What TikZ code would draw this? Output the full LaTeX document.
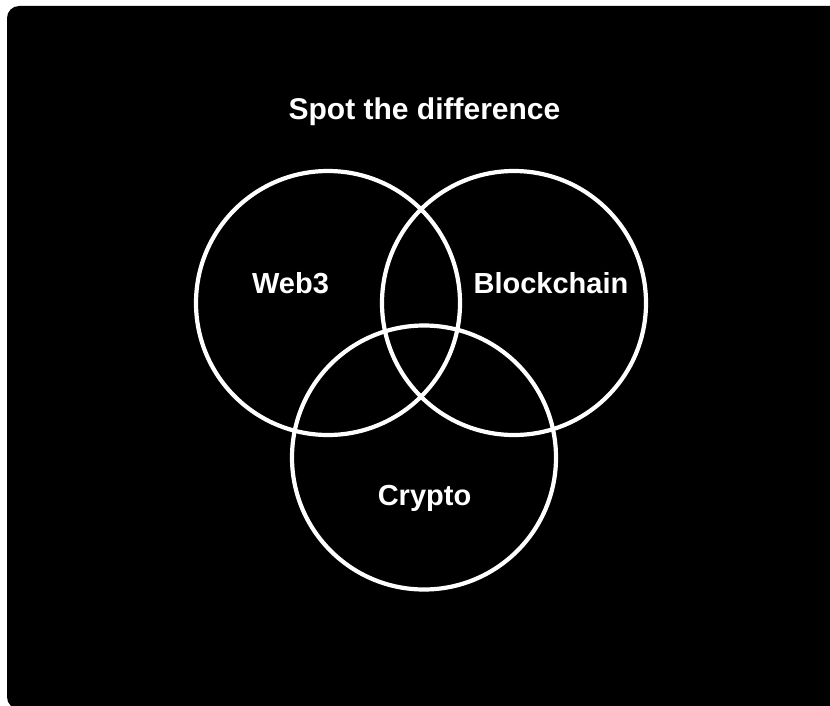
\documentclass[tikz,border=0pt]{standalone}
\usepackage{fontspec}
\setmainfont{Liberation Sans}
\begin{document}
\begin{tikzpicture}[x=1pt,y=-1pt,
  ring/.style={draw=white,line width=4.2pt},
  label/.style={text=white,font=\bfseries\fontsize{29}{31}\selectfont,anchor=base,inner sep=0pt},
  heading/.style={text=white,font=\bfseries\fontsize{30}{32}\selectfont,anchor=base,inner sep=0pt}]
  % page and card
  \useasboundingbox (0,0) rectangle (830,706);
  \fill[white] (0,0) rectangle (830,706);
  \begin{scope}
    \clip (0,0) rectangle (830,706);
    \fill[black,rounded corners=12pt] (7,6) rectangle (845,709);
  \end{scope}
  % title
  \node[heading] (title) at (424.5,120) {Spot the difference};
  % the three sets
  \node[ring,circle,minimum size=264pt,inner sep=0pt] (web3) at (328,303) {};
  \node[ring,circle,minimum size=264pt,inner sep=0pt] (chain) at (514,303) {};
  \node[ring,circle,minimum size=264pt,inner sep=0pt] (crypto) at (424,457.5) {};
  % set labels
  \node[label] (lweb3) at (290.5,293) {Web3};
  \node[label] (lchain) at (551,293) {Blockchain};
  \node[label] (lcrypto) at (424.5,505) {Crypto};
\end{tikzpicture}
\end{document}
